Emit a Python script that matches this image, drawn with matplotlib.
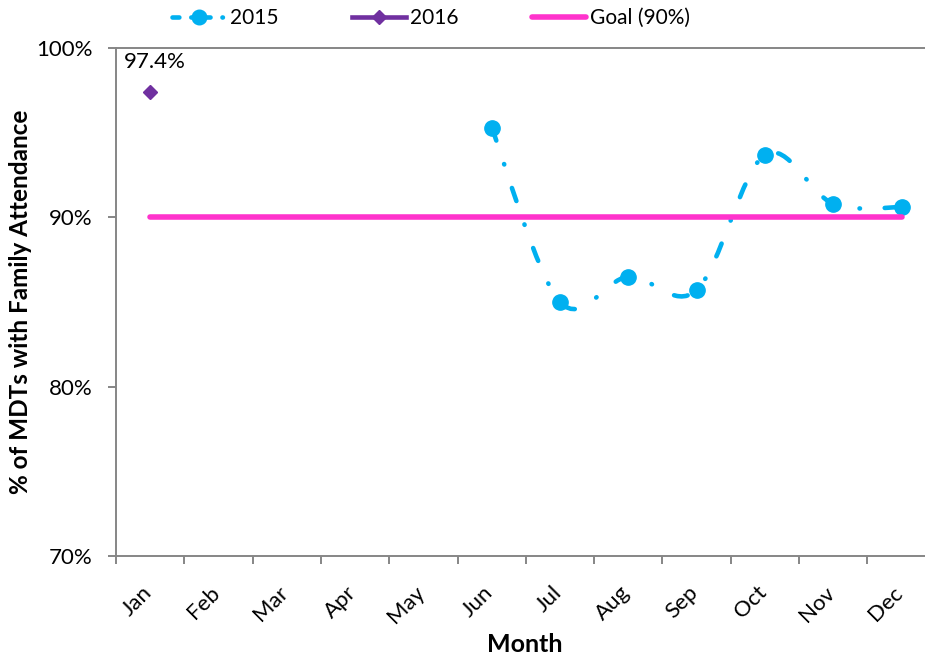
import numpy as np
import matplotlib
matplotlib.use("Agg")
import matplotlib.pyplot as plt
from matplotlib.path import Path
from matplotlib.patches import PathPatch
from matplotlib.lines import Line2D
from matplotlib.transforms import ScaledTranslation

plt.rcParams['font.family'] = ['Lato', 'DejaVu Sans']

# ---- data ----
months = ["Jan", "Feb", "Mar", "Apr", "May", "Jun", "Jul", "Aug", "Sep", "Oct", "Nov", "Dec"]
months_2015 = ["Jun", "Jul", "Aug", "Sep", "Oct", "Nov", "Dec"]
values_2015 = [95.3, 85.0, 86.5, 85.7, 93.7, 90.8, 90.6]
months_2016 = ["Jan"]
values_2016 = [97.4]
goal_value = 90.0
goal_values = [goal_value] * len(months)
y_ticks = [70, 80, 90, 100]
y_tick_labels = ["70%", "80%", "90%", "100%"]

# ---- colours ----
C2015 = "#00B0F0"
C2016 = "#7030A0"
CGOAL = "#FF33CC"
CAXIS = "#868686"

W, H = 925, 658
fig = plt.figure(figsize=(W / 100, H / 100), dpi=100)
ax = fig.add_axes([116 / W, (H - 556) / H, 819.7 / W, 508 / H])

idx = {m: i for i, m in enumerate(months)}
x15 = np.array([idx[m] for m in months_2015], dtype=float)
y15 = np.array(values_2015, dtype=float)


def smooth_path(xs, ys):
    pts = np.column_stack([xs, ys])
    n = len(pts)
    verts = [pts[0]]
    codes = [Path.MOVETO]
    for i in range(n - 1):
        p0 = pts[i - 1] if i > 0 else pts[i]
        p1 = pts[i]
        p2 = pts[i + 1]
        p3 = pts[i + 2] if i + 2 < n else pts[i + 1]
        c1 = p1 + (p2 - p0) / 6.0
        c2 = p2 - (p3 - p1) / 6.0
        verts += [c1, c2, p2]
        codes += [Path.CURVE4] * 3
    return Path(verts, codes)


dash_style = (0, (3.0, 5.4, 0.1, 5.4))
patch = PathPatch(smooth_path(x15, y15), fill=False, edgecolor=C2015, lw=3.3,
                  linestyle=dash_style, capstyle='round', joinstyle='round', zorder=3)
ax.add_patch(patch)
ax.plot(x15, y15, linestyle='none', marker='o', ms=11, color=C2015, zorder=4)

x16 = [idx[m] for m in months_2016]
ax.plot(x16, values_2016, linestyle='none', marker='D', ms=7.5, color=C2016, zorder=4)
for xv, yv in zip(x16, values_2016):
    ax.annotate(f"{yv:.1f}%", (xv, yv), xytext=(3.6, 21.6), textcoords='offset points',
                ha='center', va='center', fontsize=16, color='black')

ax.plot(range(len(months)), goal_values, color=CGOAL, lw=4, solid_capstyle='round', zorder=5)

# ---- axes ----
ax.set_xlim(-0.5, len(months) - 0.5)
ax.set_ylim(70, 100)
ax.set_xticks(np.arange(-0.5, len(months)), labels=[])
ax.set_xticks(range(len(months)), minor=True)
ax.set_xticklabels(months, minor=True, rotation=45, ha='right', fontsize=16)
ax.tick_params(axis='x', which='major', length=5.8, width=1.4, color=CAXIS, direction='out')
ax.tick_params(axis='x', which='minor', length=0, pad=19)
off = ScaledTranslation(5.5 / 100, 0, fig.dpi_scale_trans)
for lab in ax.get_xticklabels(minor=True):
    lab.set_transform(lab.get_transform() + off)

ax.set_yticks(y_ticks, labels=y_tick_labels, fontsize=16)
ax.tick_params(axis='y', length=5.8, width=1.4, color=CAXIS, direction='out', pad=11)

for s in ['left', 'bottom', 'top']:
    ax.spines[s].set_color(CAXIS)
    ax.spines[s].set_linewidth(1.4)
ax.spines['right'].set_visible(False)

fig.text(20.5 / W, (H - 302) / H, "% of MDTs with Family Attendance", rotation=90,
         ha='center', va='center', fontsize=17.5, fontweight='bold')
fig.text(525 / W, (H - 645) / H, "Month", ha='center', va='center', fontsize=18, fontweight='bold')

# ---- legend ----
handles = [
    Line2D([], [], color=C2015, lw=3.3, linestyle=(0, (1.5, 2.6, 0.1, 2.6)), marker='o', ms=10.5,
           dash_capstyle='round'),
    Line2D([], [], color=C2016, lw=3.3, marker='D', ms=7),
    Line2D([], [], color=CGOAL, lw=4, solid_capstyle='round'),
]
fig.legend(handles, ["2015", "2016", "Goal (90%)"], loc='center left',
           bbox_to_anchor=(172 / W, 1 - 18 / H), ncol=3, frameon=False, fontsize=15,
           handlelength=2.6, handletextpad=0.2, columnspacing=3.5, borderpad=0,
           borderaxespad=0, numpoints=1)

fig.savefig("out.png", dpi=100)
